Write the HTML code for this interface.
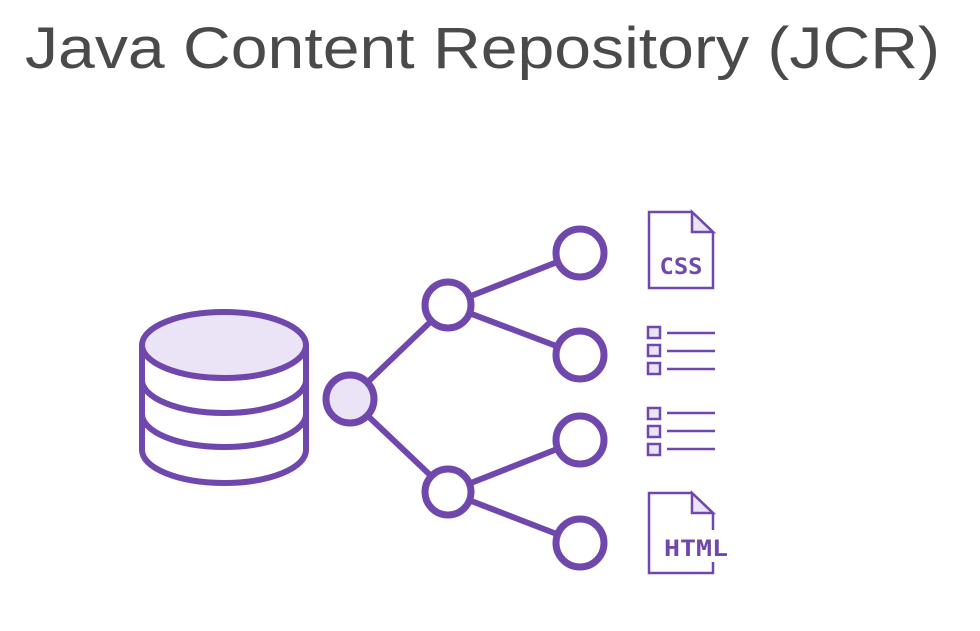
<!DOCTYPE html>
<html><head><meta charset="utf-8"><style>
html,body{margin:0;padding:0;background:#fff;}
svg{display:block;}
</style></head><body>
<svg width="980" height="631" viewBox="0 0 980 631" xmlns="http://www.w3.org/2000/svg">
<text x="25" y="68" font-family="Liberation Sans, sans-serif" font-size="58" fill="#4a4a4a" textLength="915" lengthAdjust="spacingAndGlyphs">Java Content Repository (JCR)</text>
<g fill="none" stroke="#7048ad" stroke-width="6">
 <path d="M142,345 V450 A82,33 0 0 0 306,450 V345" fill="#fff"/>
 <path d="M142,380 A82,33 0 0 0 306,380"/>
 <path d="M142,414 A82,33 0 0 0 306,414"/>
 <ellipse cx="224" cy="345" rx="82" ry="33" fill="#ebe4f6"/>
 <line x1="350" y1="399" x2="448" y2="305"/>
 <line x1="350" y1="399" x2="448" y2="492"/>
 <line x1="448" y1="305" x2="580" y2="253"/>
 <line x1="448" y1="305" x2="580" y2="355"/>
 <line x1="448" y1="492" x2="580" y2="440"/>
 <line x1="448" y1="492" x2="580" y2="543"/>
 <circle cx="350" cy="399" r="24" fill="#ebe4f6" stroke-width="7"/>
 <circle cx="448" cy="305" r="23" fill="#fff" stroke-width="7"/>
 <circle cx="448" cy="492" r="23" fill="#fff" stroke-width="7"/>
 <circle cx="580" cy="253" r="24" fill="#fff" stroke-width="7"/>
 <circle cx="580" cy="355" r="24" fill="#fff" stroke-width="7"/>
 <circle cx="580" cy="440" r="24" fill="#fff" stroke-width="7"/>
 <circle cx="580" cy="543" r="24" fill="#fff" stroke-width="7"/>
</g>
<g fill="none" stroke="#7048ad" stroke-width="2.5">
 <path d="M649,212 H692 L713,232 V288 H649 Z"/>
 <path d="M692,212 V232 H713 Z" fill="#ebe4f6"/>
 <path d="M713,562 V573 H649 V493 H692 L713,513 V530"/>
 <path d="M692,493 V513 H713 Z" fill="#ebe4f6"/>
 <g fill="#ebe4f6">
  <rect x="648" y="327" width="12" height="11"/><rect x="648" y="345" width="12" height="11"/><rect x="648" y="363" width="12" height="11"/>
  <rect x="648" y="408" width="12" height="11"/><rect x="648" y="426" width="12" height="11"/><rect x="648" y="444" width="12" height="11"/>
 </g>
 <line x1="667" y1="333" x2="715" y2="333"/><line x1="667" y1="351" x2="715" y2="351"/><line x1="667" y1="369" x2="715" y2="369"/>
 <line x1="667" y1="413" x2="715" y2="413"/><line x1="667" y1="431" x2="715" y2="431"/><line x1="667" y1="449" x2="715" y2="449"/>
</g>
<text x="681" y="274" text-anchor="middle" font-family="DejaVu Sans Mono, Liberation Mono, monospace" font-weight="bold" font-size="22" fill="#7048ad" textLength="43" lengthAdjust="spacingAndGlyphs">CSS</text>
<text x="696" y="556" text-anchor="middle" font-family="DejaVu Sans Mono, Liberation Mono, monospace" font-weight="bold" font-size="22" fill="#7048ad" textLength="64" lengthAdjust="spacingAndGlyphs">HTML</text>
</svg>
</body></html>
